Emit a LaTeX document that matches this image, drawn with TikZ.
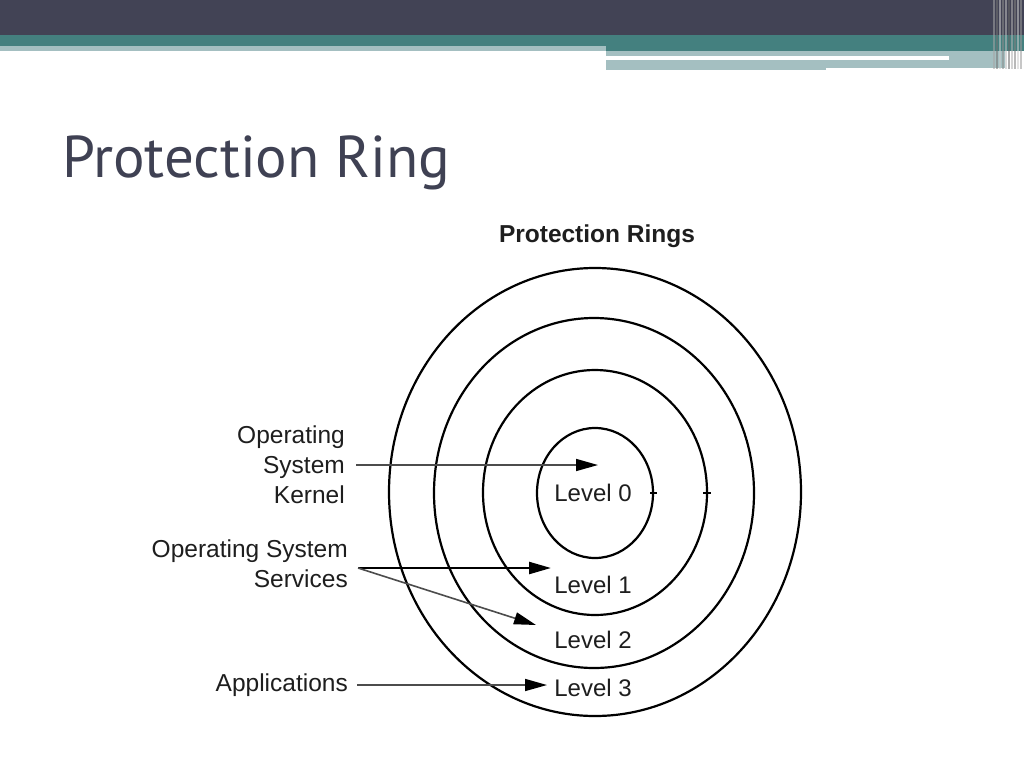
\documentclass[tikz,border=0pt]{standalone}
\usepackage{fontspec}
\setmainfont{Liberation Sans}
\newfontfamily\titlefont{PT Sans}
\usetikzlibrary{arrows.meta}
\definecolor{hdrdark}{HTML}{424355}
\definecolor{hdrteal}{HTML}{44807F}
\definecolor{hdrlight}{HTML}{A4BFC1}
\definecolor{titlecol}{HTML}{3F4153}
\definecolor{txtcol}{HTML}{1E1E1E}
\tikzset{
  ring/.style={draw=black, line width=2.2pt},
  lbl/.style={font=\fontsize{24.5}{30}\selectfont, text=txtcol, align=right, anchor=east, inner sep=0pt},
  lvl/.style={font=\fontsize{24}{28}\selectfont, text=txtcol, inner sep=0pt},
  conn/.style={line width=1.6pt, draw=black!70, -{Triangle[length=22pt,width=12pt,color=black]}},
  connthick/.style={line width=2.4pt, draw=black, -{Triangle[length=22pt,width=12pt,color=black]}},
  tick/.style={line width=1.2pt, draw=black}
}
\begin{document}
\begin{tikzpicture}[x=1pt,y=-1pt]
\useasboundingbox (0,0) rectangle (1024,768);
\fill[white] (0,0) rectangle (1024,768);
% header
\fill[hdrdark] (0,0) rectangle (1024,35);
\fill[hdrteal] (0,35) rectangle (1024,46);
\fill[hdrlight] (0,46) rectangle (606,51);
\fill[hdrteal] (606,46) rectangle (1024,51);
\fill[hdrlight] (606,51) rectangle (1005,68);
\fill[white] (606,56) rectangle (949,60);
\fill[hdrlight] (606,60) rectangle (826,70);
\fill[white] (826,68) rectangle (1005,72);
% right stripes
\foreach \x/\c in {993/black!35,996/black!55,999/black!20,1002/black!45,1005/black!25,1008/black!60,1011/black!30,1014/black!50,1017/black!20,1020/black!40}{
  \fill[\c, opacity=0.55] (\x,0) rectangle ++(2,69);
}
% title
\node[anchor=base west, inner sep=0pt, text=titlecol, font=\titlefont\fontsize{59}{64}\selectfont] (title) at (62,177) {Protection Ring};
\node[font=\bfseries\fontsize{24.5}{28}\selectfont, text=txtcol, inner sep=0pt] (ptitle) at (597,236) {Protection Rings};
% rings
\draw[ring] (595,492) ellipse [x radius=206, y radius=224];
\draw[ring] (594,493) ellipse [x radius=160, y radius=175];
\draw[ring] (595,492.5) ellipse [x radius=112, y radius=122.5];
\draw[ring] (595,493) ellipse [x radius=58, y radius=65];
\draw[tick] (650,493) -- (657,493);
\draw[tick] (703,493) -- (711,493);
% level labels
\node[lvl] (l0) at (593,493) {Level 0};
\node[lvl] (l1) at (593,585) {Level 1};
\node[lvl] (l2) at (593,640) {Level 2};
\node[lvl] (l3) at (593,688) {Level 3};
% left labels
\node[lbl] (kernel) at (345,465) {Operating\\System\\Kernel};
\node[lbl] (services) at (348,564) {Operating System\\Services};
\node[lbl] (apps) at (348,685) {Applications};
% arrow targets
\coordinate (t0) at (598,465);
\coordinate (t1) at (551,568);
\coordinate (t2) at (536,625);
\coordinate (t3) at (547,685);
% connectors
\draw[conn] ([xshift=11pt]kernel.east) -- (t0);
\draw[connthick] ([xshift=10pt,yshift=-4pt]services.east) -- (t1);
\draw[conn] ([xshift=10pt,yshift=-4pt]services.east) -- (t2);
\draw[conn] ([xshift=9pt]apps.east) -- (t3);
\end{tikzpicture}
\end{document}
